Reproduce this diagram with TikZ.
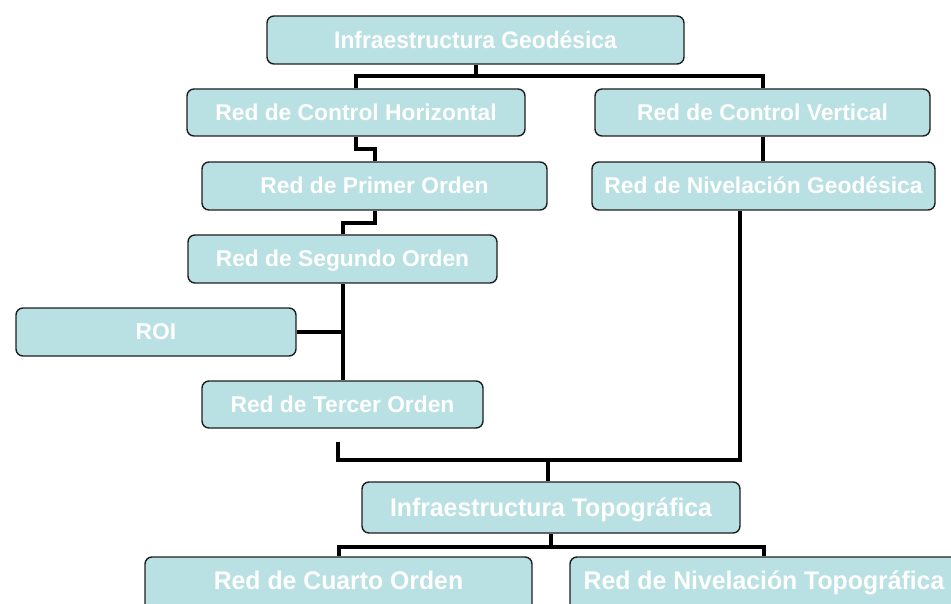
\documentclass[tikz,border=0pt]{standalone}
\usepackage{fontspec}
\setmainfont{Liberation Sans}
\usepackage{graphicx}
\definecolor{boxfill}{RGB}{185,224,226}
\definecolor{boxline}{RGB}{30,30,30}
\newcommand{\mytxt}[3]{\scalebox{1}[#2]{\fontsize{#1}{#1}\selectfont\bfseries #3}}
\tikzset{
  box/.style={draw=boxline, line width=1.4pt, rounded corners=7pt, fill=boxfill,
    text=white, inner sep=0pt, text depth=0pt},
  midbox/.style={box, text height=15.8pt},
  conn/.style={line width=4pt, draw=black, line join=miter},
}
\begin{document}
\begin{tikzpicture}[x=1pt, y=-1pt]
\useasboundingbox (0,0) rectangle (951,604);
% nodes
\node[box, text height=17pt, minimum width=417pt, minimum height=48pt] (ig) at (475.5,40) {\mytxt{22.8}{1.05}{Infraestructura Geodésica}};
\node[midbox, minimum width=338pt, minimum height=47pt] (rch) at (356,112.5) {\mytxt{22.8}{1}{Red de Control Horizontal}};
\node[midbox, minimum width=335pt, minimum height=47pt] (rcv) at (762.5,112.5) {\mytxt{22.8}{1}{Red de Control Vertical}};
\node[midbox, minimum width=345pt, minimum height=48pt] (rpo) at (374.5,186) {\mytxt{22.8}{1}{Red de Primer Orden}};
\node[midbox, minimum width=343pt, minimum height=48pt] (rng) at (763.5,186) {\mytxt{22.8}{1}{Red de Nivelación Geodésica}};
\node[midbox, minimum width=309pt, minimum height=48pt] (rso) at (342.5,259) {\mytxt{22.8}{1}{Red de Segundo Orden}};
\node[midbox, minimum width=280pt, minimum height=48pt] (roi) at (156,332) {\mytxt{22.8}{1}{ROI}};
\node[midbox, minimum width=281pt, minimum height=47pt] (rto) at (342.5,404.5) {\mytxt{22.8}{1}{Red de Tercer Orden}};
\node[box, text height=17.5pt, minimum width=378pt, minimum height=51pt] (it) at (551,507.5) {\mytxt{24.8}{1.03}{Infraestructura Topográfica}};
\node[box, text height=17.8pt, text depth=8pt, minimum width=387pt, minimum height=56pt] (rco) at (338.5,585) {\mytxt{24.8}{1.03}{Red de Cuarto Orden}};
\node[box, text height=17.8pt, text depth=8pt, minimum width=388pt, minimum height=56pt] (rnt) at (764,585) {\mytxt{24.8}{1.03}{Red de Nivelación Topográfica}};
% connectors
\draw[conn] (ig.south) -- ++(0,13);
\draw[conn] (rch.north) -- ++(0,-12) -| (rcv.north);
\draw[conn] (rch.south) -- ++(0,12) -| (rpo.north);
\draw[conn] (rcv.south) -- (rcv.south |- rng.north);
\draw[conn] (rpo.south) -- ++(0,12) -| (rso.north);
\draw[conn] (rso.south) -- (rto.north);
\draw[conn] (roi.east) -- (roi.east -| rso.south);
\coordinate (rtoend) at (338,442);
\coordinate (m1) at (338,460);
\coordinate (m2) at (740,460);
\coordinate (m3) at (548,460);
\draw[conn] (rtoend) -- (m1) -- (m2) -- (m2 |- rng.south);
\draw[conn] (m3) -- (m3 |- it.north);
\draw[conn] (it.south) -- ++(0,13.5) coordinate (b0);
\draw[conn] (rco.north) |- (b0) -| (rnt.north);
\end{tikzpicture}
\end{document}
